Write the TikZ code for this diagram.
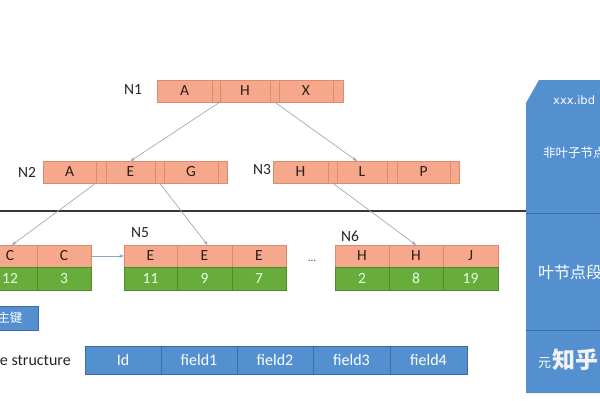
\documentclass[tikz,border=0pt]{standalone}
\usepackage{fontspec}
\setmainfont{Carlito}
\newfontfamily\cjk{Noto Sans CJK SC}
\newfontfamily\djv{DejaVu Sans}
\usetikzlibrary{arrows.meta}
\definecolor{keyfill}{RGB}{246,168,140}
\definecolor{keydraw}{RGB}{222,138,108}
\definecolor{valfill}{RGB}{104,172,60}
\definecolor{valdraw}{RGB}{78,138,44}
\definecolor{bluefill}{RGB}{84,144,208}
\definecolor{bluedraw}{RGB}{58,108,168}
\definecolor{linkc}{RGB}{140,165,188}
\definecolor{keytext}{RGB}{45,30,24}
\definecolor{sepc}{RGB}{55,55,55}
\begin{document}
\begin{tikzpicture}[x=1pt,y=-1pt,
  cell/.style={anchor=north west, inner sep=0pt, outer sep=0pt, draw=keydraw, fill=keyfill, line width=0.6pt},
  keycell/.style={cell, minimum height=22pt, font=\fontsize{15.5}{15.5}\selectfont, text=keytext},
  leafkey/.style={cell, minimum height=22pt, font=\fontsize{15.5}{15.5}\selectfont, text=keytext},
  leafval/.style={cell, draw=valdraw, fill=valfill, minimum height=23pt, font=\fontsize{15.5}{15.5}\selectfont, text=white!90!green},
  bluecell/.style={cell, draw=bluedraw, fill=bluefill, minimum height=28pt, font=\fontsize{16}{16}\selectfont, text=white},
  lbl/.style={font=\fontsize{15.5}{15.5}\selectfont, text=black!85, inner sep=0pt},
  link/.style={draw=linkc, line width=0.6pt, -{Stealth[length=4.5pt,width=3.5pt]}}
]
\useasboundingbox (0,0) rectangle (600,400);
\clip (0,0) rectangle (600,400);
\fill[white] (0,0) rectangle (600,400);

% ---------- N1 ----------
\node[lbl] (l1) at (133,90) {N1};
\node[keycell, minimum width=55pt] (n1a) at (157,80) {A};
\node[keycell, minimum width=8pt] (n1p1) at (212,80) {};
\node[keycell, minimum width=50pt] (n1h) at (220,80) {H};
\node[keycell, minimum width=9pt] (n1p2) at (270,80) {};
\node[keycell, minimum width=54pt] (n1x) at (279,80) {X};
\node[keycell, minimum width=10pt] (n1p3) at (333,80) {};

% ---------- N2 ----------
\node[lbl] (l2) at (27,172) {N2};
\node[keycell, minimum width=53pt] (n2a) at (43,161) {A};
\node[keycell, minimum width=10pt] (n2p1) at (96,161) {};
\node[keycell, minimum width=49pt] (n2e) at (106,161) {E};
\node[keycell, minimum width=9pt] (n2p2) at (155,161) {};
\node[keycell, minimum width=54pt] (n2g) at (164,161) {G};
\node[keycell, minimum width=9pt] (n2p3) at (218,161) {};

% ---------- N3 ----------
\node[lbl] (l3) at (262,170) {N3};
\node[keycell, minimum width=55pt] (n3h) at (273,161) {H};
\node[keycell, minimum width=9pt] (n3p1) at (328,161) {};
\node[keycell, minimum width=50pt] (n3l) at (337,161) {L};
\node[keycell, minimum width=10pt] (n3p2) at (387,161) {};
\node[keycell, minimum width=53pt] (n3p) at (397,161) {P};
\node[keycell, minimum width=9pt] (n3p3) at (450,161) {};

% ---------- separator ----------
\coordinate (sepL) at (0,211);
\coordinate (sepR) at (527,211);
\draw[sepc, line width=1.6pt] (sepL) -- (sepR);

% ---------- left leaf ----------
\node[leafkey, minimum width=54pt] (lc1) at (-17,245) {C};
\node[leafkey, minimum width=54pt] (lc2) at (37,245) {C};
\node[leafval, minimum width=54pt] (lv1) at (-17,267) {12};
\node[leafval, minimum width=54pt] (lv2) at (37,267) {3};

% ---------- N5 ----------
\node[lbl] (l5) at (140,233) {N5};
\node[leafkey, minimum width=53pt] (n5a) at (124,245) {E};
\node[leafkey, minimum width=55pt] (n5b) at (177,245) {E};
\node[leafkey, minimum width=54pt] (n5c) at (232,245) {E};
\node[leafval, minimum width=53pt] (v5a) at (124,267) {11};
\node[leafval, minimum width=55pt] (v5b) at (177,267) {9};
\node[leafval, minimum width=54pt] (v5c) at (232,267) {7};

\node[font=\fontsize{11}{11}\selectfont, text=black!70] (dots) at (312,261) {...};

% ---------- N6 ----------
\node[lbl] (l6) at (350,236) {N6};
\node[leafkey, minimum width=54pt] (n6a) at (335,245) {H};
\node[leafkey, minimum width=54pt] (n6b) at (389,245) {H};
\node[leafkey, minimum width=55pt] (n6c) at (443,245) {J};
\node[leafval, minimum width=54pt] (v6a) at (335,267) {2};
\node[leafval, minimum width=54pt] (v6b) at (389,267) {8};
\node[leafval, minimum width=55pt] (v6c) at (443,267) {19};

% ---------- links ----------
\draw[link] (n1h.south west) -- (n2e.north);
\draw[link] (n1p2.south) -- ([xshift=-5pt]n3l.north);
\draw[link] (n2a.south east) -- ([xshift=2pt]lc1.north);
\draw[link] (n2p2.south) -- ([xshift=3pt]n5b.north);
\draw[link] (n3p1.south) -- (n6b.north);
\draw[link] (lc2.east) -- (n5a.west);

% ---------- primary key box ----------
\node[bluecell, minimum width=56pt, minimum height=24pt, font=\cjk\fontsize{12.5}{12.5}\selectfont] (pk) at (-18,306) {主键};

% ---------- row structure ----------
\node[lbl, anchor=east, font=\fontsize{16}{16}\selectfont] (rs) at (71,360) {e structure};
\node[bluecell, minimum width=76pt] (fid) at (85,346) {Id};
\node[bluecell, minimum width=76pt] (f1) at (161,346) {field1};
\node[bluecell, minimum width=76pt] (f2) at (237,346) {field2};
\node[bluecell, minimum width=77pt] (f3) at (313,346) {field3};
\node[bluecell, minimum width=77pt] (f4) at (390,346) {field4};

% ---------- right file shape ----------
\fill[bluefill] (526,103) -- (539,80) -- (610,80) -- (610,393) -- (526,393) -- cycle;
\draw[bluedraw, line width=0.8pt] (526,213) -- (610,213);
\draw[bluedraw, line width=0.8pt] (526,330) -- (610,330);
\node[anchor=west, inner sep=0pt, text=white, font=\djv\fontsize{11.5}{11.5}\selectfont] (ibd) at (553,100) {xxx.ibd};
\node[anchor=west, inner sep=0pt, text=white, font=\cjk\fontsize{12.5}{12.5}\selectfont] (nonleaf) at (543,153) {非叶子节点};
\node[anchor=west, inner sep=0pt, text=white, font=\cjk\fontsize{16}{16}\selectfont] (leaf) at (538,272) {叶节点段};
\node[anchor=west, inner sep=0pt, text=white, font=\cjk\fontsize{13}{13}\selectfont] (meta) at (538,363) {元};
\node[anchor=west, inner sep=0pt, text=white!90!gray, font=\cjk\bfseries\fontsize{23}{23}\selectfont] (wm) at (552,360) {知乎};
\end{tikzpicture}
\end{document}
